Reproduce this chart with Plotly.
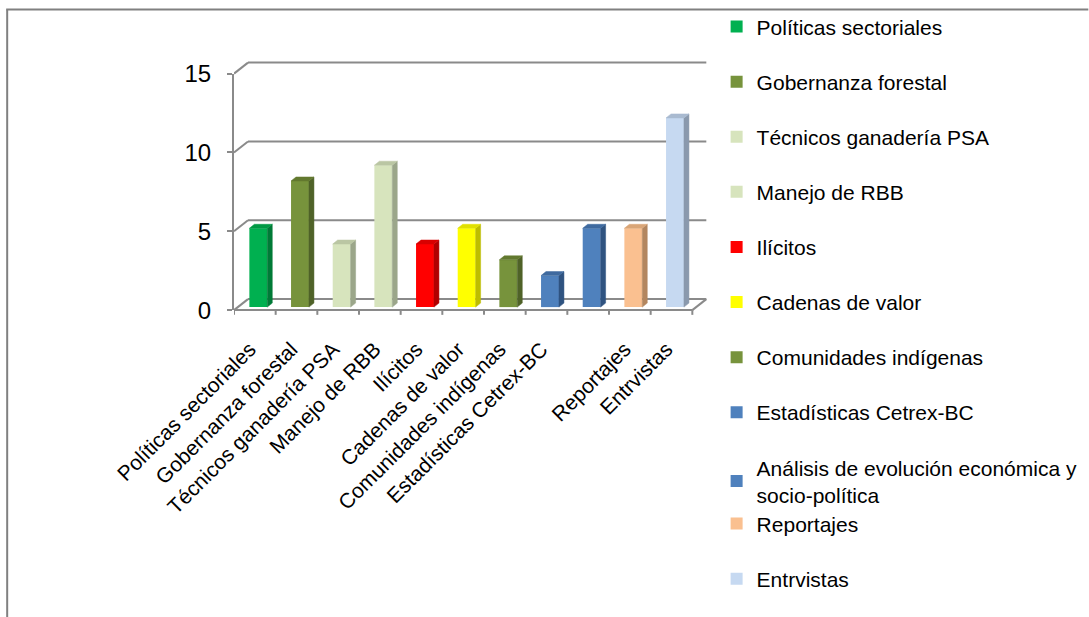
import plotly.graph_objects as go

# ---------------- data ----------------
categories = [
    "Políticas sectoriales", "Gobernanza forestal", "Técnicos ganadería PSA",
    "Manejo de RBB", "Ilícitos", "Cadenas de valor", "Comunidades indígenas",
    "Estadísticas Cetrex-BC", "Análisis de evolución económica y socio-política",
    "Reportajes", "Entrvistas",
]
legend_names = [
    "Políticas sectoriales", "Gobernanza forestal", "Técnicos ganadería PSA",
    "Manejo de RBB", "Ilícitos", "Cadenas de valor", "Comunidades indígenas",
    "Estadísticas Cetrex-BC", "Análisis de evolución económica y<br>socio-política",
    "Reportajes", "Entrvistas",
]
tick_labels = [
    "Políticas sectoriales", "Gobernanza forestal", "Técnicos ganadería PSA",
    "Manejo de RBB", "Ilícitos", "Cadenas de valor", "Comunidades indígenas",
    "Estadísticas Cetrex-BC", "", "Reportajes", "Entrvistas",
]
values = [5, 8, 4, 9, 4, 5, 3, 2, 5, 5, 12]
y_ticks = [0, 5, 10, 15]

front_colors = ["#00B050", "#77933C", "#D7E4BD", "#D7E4BD", "#FF0000", "#FFFF00",
                "#77933C", "#4F81BD", "#4F81BD", "#FAC090", "#C6D9F1"]
side_colors = ["#007A37", "#4F6228", "#9BA68A", "#9BA68A", "#B00000", "#BDBD00",
               "#4F6228", "#2F5380", "#2F5380", "#B3865F", "#8A99AD"]
top_colors = ["#009944", "#62792F", "#BAC6A3", "#BAC6A3", "#D80000", "#E0E000",
              "#62792F", "#3F6A9F", "#3F6A9F", "#D9A577", "#A9BAD0"]

# ---------------- geometry ----------------
W, H = 1089, 617
X_LEFT = 234.0      # px of front-left corner
CAT_PX = 41.7       # px per category
Y_ZERO = 310.0      # px of value 0 on the front plane
UNIT_PX = 15.73     # px per value unit
x_range = [-0.5, 10.9]
y_range = [-0.5, 15.8]
plot_w = (x_range[1] - x_range[0]) * CAT_PX
plot_h = (y_range[1] - y_range[0]) * UNIT_PX
m_l = X_LEFT
m_r = W - X_LEFT - plot_w
m_b = H - (Y_ZERO - y_range[0] * UNIT_PX)
m_t = H - m_b - plot_h


def pxx(p):
    return (p - m_l) / plot_w


def pxy(p):
    return (H - m_b - p) / plot_h


wall_dx = 14 / CAT_PX
wall_dy = 11 / UNIT_PX
bar_dx = 3.5 / CAT_PX
bar_dy = 3 / UNIT_PX
bar_w = 0.43
side_dx = 5 / CAT_PX
side_dy = 4 / UNIT_PX

n = len(categories)
grid_color = "#8A8A8A"
FONT = "Liberation Sans, Arial, sans-serif"

fig = go.Figure()

# helper traces so that the axes exist
fig.add_trace(go.Scatter(x=[None], y=[None], xaxis="x", yaxis="y",
                         showlegend=False, hoverinfo="skip"))
fig.add_trace(go.Scatter(x=[None], y=[None], xaxis="x", yaxis="y3",
                         showlegend=False, hoverinfo="skip"))

# bars (front faces) + 3D side and top faces
for i in range(n):
    v = values[i]
    fig.add_trace(go.Bar(
        x=[i], y=[v], width=bar_w, name=legend_names[i],
        marker=dict(color=front_colors[i], line=dict(width=0)),
        xaxis="x2", yaxis="y2",
        legend="legend" if i < 9 else "legend2",
        legendgroup=f"g{i}",
        hovertemplate=categories[i] + ": %{y}<extra></extra>",
    ))
    r = i + bar_w / 2
    l = i - bar_w / 2
    fig.add_trace(go.Scatter(
        x=[r, r + side_dx, r + side_dx, r, r],
        y=[0, side_dy, v + side_dy, v, 0],
        fill="toself", fillcolor=side_colors[i], mode="lines",
        line=dict(color=side_colors[i], width=0.5),
        xaxis="x2", yaxis="y2", showlegend=False, hoverinfo="skip",
    ))
    fig.add_trace(go.Scatter(
        x=[l, l + side_dx, r + side_dx, r, l],
        y=[v, v + side_dy, v + side_dy, v, v],
        fill="toself", fillcolor=top_colors[i], mode="lines",
        line=dict(color=top_colors[i], width=0.5),
        xaxis="x2", yaxis="y2", showlegend=False, hoverinfo="skip",
    ))

shapes = []
gl = dict(color=grid_color, width=2)
# back wall gridlines + side-wall diagonals
for t in y_ticks:
    shapes.append(dict(type="line", xref="x", yref="y", layer="below",
                       x0=-0.5 + wall_dx, y0=t + wall_dy,
                       x1=n - 0.5 + wall_dx, y1=t + wall_dy, line=gl))
    shapes.append(dict(type="line", xref="x", yref="y", layer="below",
                       x0=-0.5, y0=t, x1=-0.5 + wall_dx, y1=t + wall_dy, line=gl))
# floor front edge and right edge
shapes.append(dict(type="line", xref="x", yref="y", layer="below",
                   x0=-0.5, y0=0, x1=n - 0.5, y1=0, line=gl))
shapes.append(dict(type="line", xref="x", yref="y", layer="below",
                   x0=n - 0.5, y0=0, x1=n - 0.5 + wall_dx, y1=wall_dy, line=gl))
# category tick marks on the floor front edge
for k in range(n + 1):
    shapes.append(dict(type="line", xref="x", yref="y", layer="below",
                       x0=k - 0.5, y0=0, x1=k - 0.5, y1=-0.3, line=gl))
# outer border of the chart area
shapes.append(dict(type="line", xref="paper", yref="paper",
                   x0=pxx(6), y0=pxy(10), x1=pxx(1089), y1=pxy(10),
                   line=dict(color="#808080", width=2)))
shapes.append(dict(type="line", xref="paper", yref="paper",
                   x0=pxx(7), y0=pxy(10), x1=pxx(7), y1=pxy(617),
                   line=dict(color="#808080", width=2)))

y3_dom = [(0 - y_range[0]) / (y_range[1] - y_range[0]),
          (15 - y_range[0]) / (y_range[1] - y_range[0])]

LEG_FS = 21
LEG_STEP = 55.1
LEG_TOP = 7
leg_common = dict(
    xanchor="left", yanchor="top", x=pxx(717),
    font=dict(family=FONT, size=LEG_FS, color="black"),
    bgcolor="rgba(0,0,0,0)", tracegroupgap=LEG_STEP - (1.3 * LEG_FS + 3),
    maxheight=1000,
)

fig.update_layout(
    width=W, height=H, autosize=False,
    margin=dict(l=m_l, r=m_r, t=m_t, b=m_b, autoexpand=False),
    paper_bgcolor="white", plot_bgcolor="rgba(0,0,0,0)",
    barmode="overlay",
    font=dict(family=FONT, color="black"),
    xaxis=dict(range=x_range, domain=[0, 1], anchor="y",
               tickmode="array", tickvals=list(range(n)), ticktext=tick_labels,
               tickangle=-45, ticks="", showline=False, showgrid=False,
               zeroline=False, tickfont=dict(family=FONT, size=21, color="black"),
               ticklabelstandoff=14, ticklabelshift=-5),
    yaxis=dict(range=y_range, domain=[0, 1], visible=False, fixedrange=True),
    xaxis2=dict(range=[x_range[0] - bar_dx, x_range[1] - bar_dx],
                overlaying="x", visible=False),
    yaxis2=dict(range=[y_range[0] - bar_dy, y_range[1] - bar_dy],
                overlaying="y", visible=False),
    yaxis3=dict(range=[0, 15], domain=y3_dom, anchor="x", side="left",
                tickmode="array", tickvals=y_ticks,
                showline=True, linecolor=grid_color, linewidth=2,
                ticks="outside", ticklen=5, tickwidth=2, tickcolor=grid_color,
                showgrid=False, zeroline=False,
                tickfont=dict(family=FONT, size=24, color="black"),
                ticklabelstandoff=11),
    legend=dict(y=pxy(LEG_TOP), **leg_common),
    legend2=dict(y=pxy(LEG_TOP + 9 * LEG_STEP), **leg_common),
    shapes=shapes,
    showlegend=True,
)

fig.write_html(
    "out.html",
    config={"displayModeBar": False},
    post_script="document.body.style.margin='0';document.body.style.overflow='hidden';",
)
